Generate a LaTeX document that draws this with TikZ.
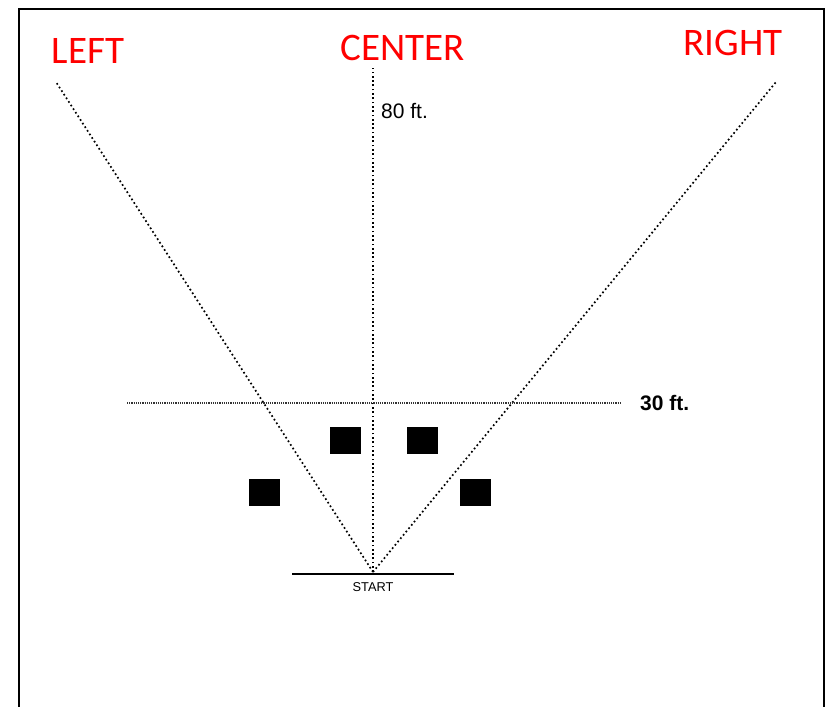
\documentclass[tikz,border=0pt]{standalone}
\usepackage{fontspec}
\setmainfont{Liberation Sans}
\newfontfamily\calib{Carlito}
\begin{document}
\begin{tikzpicture}[x=1pt,y=-1pt,
  dotline/.style={line width=1.7pt, dash pattern=on 1.7pt off 2.6pt},
  fieldlabel/.style={font=\calib\fontsize{39}{39}\selectfont, text=red, anchor=base, inner sep=0pt},
  cone/.style={fill=black, draw=none, minimum width=31pt, minimum height=27pt, inner sep=0pt},
  distlabel/.style={font=\fontsize{21}{21}\selectfont, anchor=base west, inner sep=0pt}]
\useasboundingbox (0,0) rectangle (829,706);
% frame (open at the bottom)
\draw[line width=2pt] (18.5,712) -- (18.5,9) -- (823.5,9) -- (823.5,712);
% labels
\node[fieldlabel] (left) at (88,64) {LEFT};
\node[fieldlabel] (center) at (403,61) {CENTER};
\node[fieldlabel] (right) at (733,56) {RIGHT};
% points
\coordinate (o) at (373,572);
\coordinate (lend) at (56,82);
\coordinate (cend) at (373,68);
\coordinate (rend) at (776,82);
\coordinate (h1) at (127,403);
\coordinate (h2) at (621,403);
% lines
\draw[dotline] (o) -- (lend);
\draw[dotline] (o) -- (cend);
\draw[dotline] (o) -- (rend);
\draw[line width=1.1pt, dash pattern=on 1.1pt off 1.1pt, black!80] (h1) -- (h2);
\draw[line width=1.2pt] (292,574) coordinate (s1) -- (454,574) coordinate (s2);
% distance labels
\node[distlabel] (d80) at (381,118) {80 ft.};
\node[distlabel, font=\bfseries\fontsize{21}{21}\selectfont] (d30) at (640,410) {30 ft.};
\node[font=\fontsize{12.8}{13}\selectfont, anchor=base, inner sep=0pt] (start) at (373,591) {START};
% cones
\node[cone] (c1) at (345,440.5) {};
\node[cone] (c2) at (422,440.5) {};
\node[cone] (c3) at (264.5,492.5) {};
\node[cone] (c4) at (475.5,492.5) {};
\end{tikzpicture}
\end{document}
